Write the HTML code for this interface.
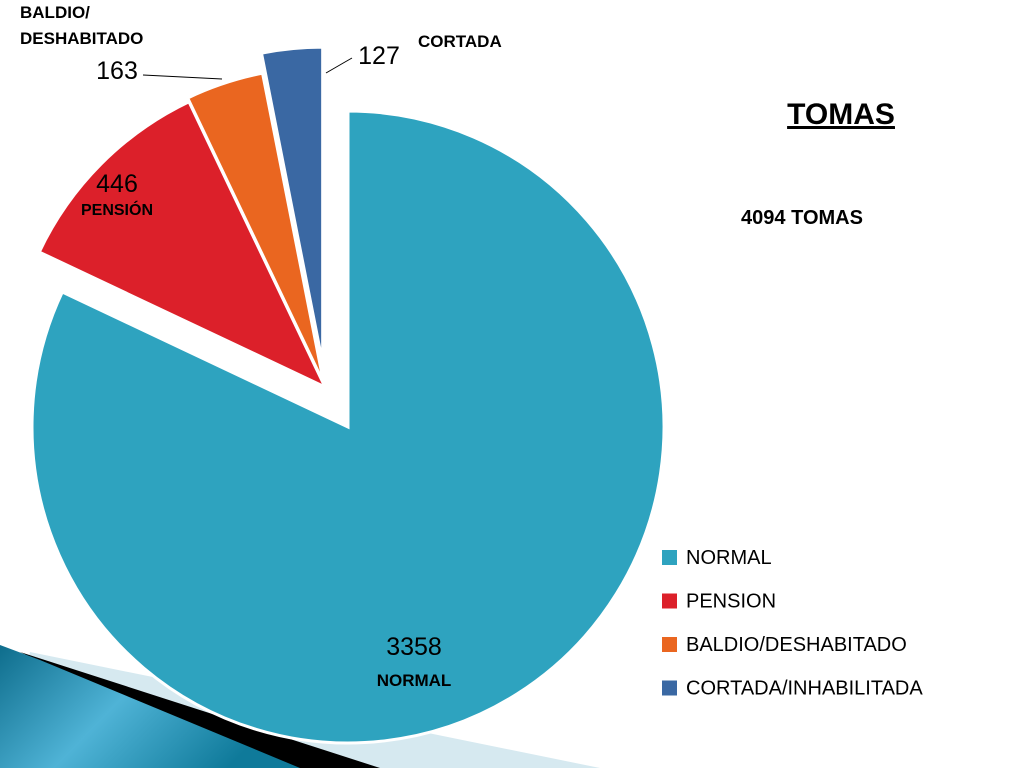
<!DOCTYPE html>
<html><head><meta charset="utf-8"><style>
html,body{margin:0;padding:0;background:#fff;}
svg{display:block;font-family:"Liberation Sans",sans-serif;}
</style></head><body>
<svg id="chart" width="1024" height="768" viewBox="0 0 1024 768">
<defs>
<linearGradient id="tg" x1="0" y1="0" x2="1" y2="0.4">
<stop offset="0" stop-color="#0e6d8c"/><stop offset="0.5" stop-color="#4fb3d6"/><stop offset="1" stop-color="#0f7a9a"/>
</linearGradient>
</defs>
<g>
<polygon points="30,652 600,768 0,768" fill="#d6e9f0"/>
<polygon points="20,652 380,768 260,768" fill="#000"/>
<polygon points="0,645 40,660 300,768 0,768" fill="url(#tg)"/>
</g>
<g id="slices"></g>
<g id="labels"></g>
<text x="841" y="124" text-anchor="middle" font-size="30" font-weight="bold" text-decoration="underline">TOMAS</text>
<line x1="788" y1="128" x2="895" y2="128" stroke="#000" stroke-width="2"/>
<text x="802" y="224" text-anchor="middle" font-size="20" font-weight="bold">4094 TOMAS</text>
<g id="legend"></g>
</svg>
<script>
const categories = ["NORMAL","PENSION","BALDIO/DESHABITADO","CORTADA/INHABILITADA"];
const values = [3358, 446, 163, 127];
const colors = ["#2ea3bf","#dc202a","#ea6620","#3a68a3"];
const explode = [0, 0, 4, 24];
const ns="http://www.w3.org/2000/svg";
const cx=348, cy=427, R=316, groupShift=[-23,-40];
const total=values.reduce((a,b)=>a+b,0);
function pt(ax,ay,a,r){return [ax+r*Math.sin(a), ay-r*Math.cos(a)];}
const sg=document.getElementById('slices');
let start=0;
values.forEach((v,i)=>{
  const sweep=v/total*2*Math.PI, end=start+sweep, mid=start+sweep/2;
  let ax=cx, ay=cy;
  if(i>0){ax+=groupShift[0]+explode[i]*Math.sin(mid); ay+=groupShift[1]-explode[i]*Math.cos(mid);}
  const p1=pt(ax,ay,start,R), p2=pt(ax,ay,end,R);
  const large=sweep>Math.PI?1:0;
  const p=document.createElementNS(ns,'path');
  p.setAttribute('d',`M${ax},${ay} L${p1[0]},${p1[1]} A${R},${R} 0 ${large} 1 ${p2[0]},${p2[1]} Z`);
  p.setAttribute('fill',colors[i]);
  p.setAttribute('stroke','#fff');
  p.setAttribute('stroke-width','3');
  
  
  sg.appendChild(p);
  start=end;
});
const lg=document.getElementById('labels');
function txt(x,y,s,size,bold,anchor){
  const t=document.createElementNS(ns,'text');
  t.setAttribute('x',x);t.setAttribute('y',y);t.setAttribute('font-size',size);
  if(bold)t.setAttribute('font-weight','bold');
  t.setAttribute('text-anchor',anchor||'start');
  t.textContent=s;
  
  
  lg.appendChild(t);return t;
}
txt(414,655,String(values[0]),25,false,'middle');
txt(414,686,"NORMAL",17,true,'middle');
txt(117,192,String(values[1]),25,false,'middle');
txt(117,215,"PENSIÓN",16,true,'middle');
txt(20,18,"BALDIO/",17,true);
txt(20,44,"DESHABITADO",17,true);
txt(117,79,String(values[2]),25,false,'middle');
txt(379,64,String(values[3]),25,false,'middle');
txt(418,47,"CORTADA",17,true);
const l1=document.createElementNS(ns,'polyline');
l1.setAttribute('points','143,75 222,79');l1.setAttribute('stroke','#000');l1.setAttribute('fill','none');


lg.appendChild(l1);
const l2=document.createElementNS(ns,'polyline');
l2.setAttribute('points','352,58 345,62 326,73');l2.setAttribute('stroke','#000');l2.setAttribute('fill','none');


lg.appendChild(l2);
const leg=document.getElementById('legend');
categories.forEach((c,i)=>{
  const y=550+i*43.5;
  const r=document.createElementNS(ns,'rect');
  r.setAttribute('x',662);r.setAttribute('y',y);r.setAttribute('width',15);r.setAttribute('height',15);r.setAttribute('fill',colors[i]);
  
  
  leg.appendChild(r);
  const t=document.createElementNS(ns,'text');
  t.setAttribute('x',686);t.setAttribute('y',y+14);t.setAttribute('font-size',20);
  t.textContent=c;
  
  
  leg.appendChild(t);
});
</script>
</body></html>
